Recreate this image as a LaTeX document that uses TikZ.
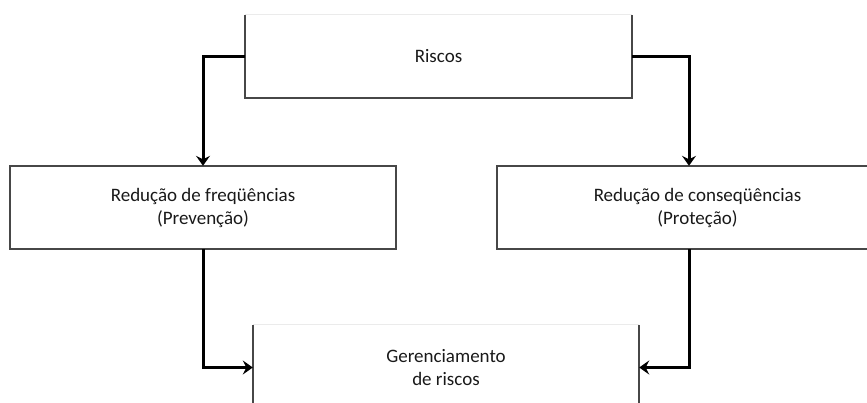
\documentclass[tikz,border=0pt]{standalone}
\usepackage{fontspec}
\setmainfont{Carlito}
\usetikzlibrary{arrows.meta}
\tikzset{
  boxlabel/.style={font=\fontsize{19}{23}\selectfont, text=black!90, align=center, inner sep=0pt},
  frame/.style={draw=black!72, line width=1.8pt},
  faint/.style={draw=black!8, line width=1pt},
  flow/.style={line width=3pt, black, -{Stealth[length=10pt,width=14pt,inset=3.5pt]}}
}
\begin{document}
\begin{tikzpicture}[x=1pt,y=-1pt]
  \useasboundingbox (0,0) rectangle (867,403);
  \clip (0,0) rectangle (867,403);

  % boxes (text nodes sized as the frames)
  \node[boxlabel, minimum width=387pt, minimum height=83pt] (riscos) at (438.5,56.5) {Riscos};
  \node[boxlabel, minimum width=386pt, minimum height=83pt] (prev) at (203,207.5)
    {Redução de freqüências\\(Prevenção)};
  \node[boxlabel, minimum width=401pt, minimum height=83pt] (prot) at (697.5,207.5)
    {Redução de conseqüências\\(Proteção)};
  \node[boxlabel, minimum width=386pt, minimum height=85pt] (ger) at (446,367.5)
    {Gerenciamento\\de riscos};

  % frames
  \draw[faint] (riscos.north west) -- (riscos.north east);
  \draw[frame] (riscos.north west) -- (riscos.south west) -- (riscos.south east) -- (riscos.north east);
  \draw[frame] (prev.north west) rectangle (prev.south east);
  \draw[frame] (prot.north west) rectangle (prot.south east);
  \draw[faint] (ger.north west) -- (ger.north east);
  \draw[frame] (ger.north west) -- (ger.south west);
  \draw[frame] (ger.north east) -- (ger.south east);

  % connectors
  \coordinate (protin) at ([xshift=-8.5pt]prot.north);
  \coordinate (protout) at ([xshift=-8.5pt]prot.south);
  \draw[flow] (riscos.west) -| (prev.north);
  \draw[flow] (riscos.east) -| (protin);
  \draw[flow] (prev.south) |- (ger.west);
  \draw[flow] (protout) |- (ger.east);
\end{tikzpicture}
\end{document}
